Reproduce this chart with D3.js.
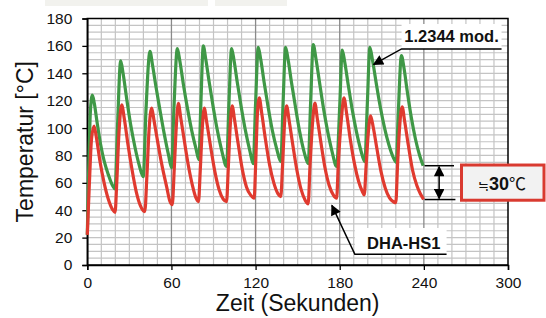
<!DOCTYPE html>
<html><head><meta charset="utf-8">
<script src="https://cdn.jsdelivr.net/npm/d3@7/dist/d3.min.js"></script>
<style>
html,body{margin:0;padding:0;background:#fff;}
svg{display:block;font-family:Arial,"Liberation Sans","Noto Sans CJK JP",sans-serif;}
</style></head><body>
<svg id="c" width="546" height="318"></svg>
<script>
// ---- data ----
const xTicks = [0, 60, 120, 180, 240, 300];
const yTicks = [0, 20, 40, 60, 80, 100, 120, 140, 160, 180];
const seriesNames = ["1.2344 mod.", "DHA-HS1"];
const greenSeries = [
 [0,22],[1,70],[2.2,112],[3.6,124],[5,118],[7,104],[9.5,88],[12,76],[15,66],[18,58],[19.8,55.5],
 [21.5,100],[23.8,149],[25.5,140],[28,122],[31,102],[34,86],[37,73],[39.9,64.5],
 [41.8,112],[44.7,156],[46.5,146],[49,130],[52,112],[55,95],[58,80],[60.1,71],
 [61.8,115],[64.2,158],[66,149],[68.5,132],[71.5,114],[74.5,98],[77.5,85],[79.6,77],
 [81,118],[82.7,160],[84.5,150],[87,133],[90,114],[93,97],[96,83],[99.3,72],
 [101,118],[102.9,158],[104.7,149],[107,133],[110,114],[113,97],[116,83],[118.3,74],
 [120,118],[121.9,159],[123.7,150],[126,134],[129,115],[132,98],[135,85],[138,75.5],
 [139.6,118],[141.4,159],[143.2,150],[145.5,134],[148.5,115],[151.5,97],[154.5,83],[157.5,74],
 [159.3,120],[161.1,161],[163,151],[165.5,134],[168.5,114],[171.5,97],[174.5,83],[177.8,72],
 [180,116],[181.8,157],[183.6,148],[186,132],[189,113],[192,97],[195,84],[197.9,75.5],
 [199.7,118],[201.5,159],[203.3,150],[206,133],[209,115],[212,100],[215,88],[218,79],[220.3,75],
 [221.8,112],[224,153],[225.8,144],[228,128],[231,108],[234,92],[237,80],[239.5,72.5]
];
const redSeries = [
 [0,22],[1.5,60],[3,92],[4.8,101.5],[6.5,93],[9,76],[12,60],[15,48],[18,40.5],[19.8,38.5],
 [21,60],[22.5,95],[24.5,117],[26.5,106],[29,88],[32,69],[35,53],[38,43],[41,39],
 [42.5,65],[44,98],[45.9,114.5],[47.5,106],[49.5,94],[53,74],[56.6,57],[58.9,46.5],[60.6,44],
 [62,70],[63.4,100],[64.9,118],[66.7,107],[69,92],[72,73],[75,58],[77.5,49],[79.3,46.3],
 [80.5,68],[82,100],[83.4,114.5],[85.2,104],[88,86],[91,68],[94,55],[97,48],[99.3,46.3],
 [100.5,70],[102,103],[103.3,116.3],[105,106],[107.5,89],[110.5,70],[113.5,57],[116.5,51],[119,48.8],
 [120,72],[121.2,108],[122.6,122],[124.5,110],[127,92],[130,73],[133,60],[136,52],[138,50],
 [139.2,72],[140.7,104],[142.1,116.3],[144,105],[146.5,88],[149.5,69],[152.5,55],[155.5,47],[157.5,44.6],
 [158.8,72],[160.8,106],[162.3,118.3],[164,107],[166.5,90],[169.5,71],[172.5,58],[175.5,51],[177.8,48.8],
 [179,74],[181.3,108],[183,122],[185,110],[187.5,92],[190.5,74],[193.5,61],[196,54],[197.5,51.2],
 [198.8,72],[200.5,98],[202,109],[204,100],[206.5,85],[209.5,68],[212.5,56],[215.5,49],[218.5,46],[220,45.5],
 [221.2,72],[222.8,102],[224.5,115.5],[226.3,105],[229,87],[232,69],[235,58],[237.5,52],[239.8,48]
];
const diffLabelSym = "≒";
const diffLabelVal = "30";
const diffLabelUnit = "℃";
const xTitle = "Zeit (Sekunden)";
const yTitle = "Temperatur [°C]";

// ---- layout ----
const svg = d3.select("#c");
const x = d3.scaleLinear().domain([0,300]).range([87.3,508]);
const y = d3.scaleLinear().domain([0,180]).range([265,18.5]);

// faint header remnants
svg.append("rect").attr("x",45).attr("y",0).attr("width",163).attr("height",6).attr("fill","#f2f2ee");
svg.append("rect").attr("x",215).attr("y",0).attr("width",72).attr("height",6).attr("fill","#f2f2ee");

const grid = svg.append("g");
d3.range(5,180,5).forEach(v=>{
  grid.append("line").attr("x1",x(0)).attr("x2",x(300)).attr("y1",y(v)).attr("y2",y(v))
   .attr("stroke","#c4c4c4").attr("stroke-width",1.2);
});
d3.range(10,300,10).forEach(v=>{
  const major = v%60===0;
  grid.append("line").attr("x1",x(v)).attr("x2",x(v)).attr("y1",y(0)).attr("y2",y(180))
   .attr("stroke",major?"#8a8a8a":"#c4c4c4").attr("stroke-width",major?1.3:1.2);
});
svg.append("rect").attr("x",x(0)).attr("y",y(180)).attr("width",x(300)-x(0)).attr("height",y(0)-y(180))
 .attr("fill","none").attr("stroke","#000").attr("stroke-width",1.5);

// axes
const yAxis = svg.append("g").attr("transform",`translate(${x(0)},0)`)
  .call(d3.axisLeft(y).tickValues(yTicks).tickSize(5).tickPadding(10));
const xAxis = svg.append("g").attr("transform",`translate(0,${y(0)})`)
  .call(d3.axisBottom(x).tickValues(xTicks).tickSize(5).tickPadding(7));
[yAxis,xAxis].forEach(a=>{
  a.select(".domain").attr("stroke","#000").attr("stroke-width",1.5);
  a.selectAll(".tick line").attr("stroke","#000").attr("stroke-width",1.3);
  a.selectAll(".tick text").attr("font-size",15.5).attr("fill","#111").attr("font-family","Arial, 'Liberation Sans', sans-serif");
});

// titles
svg.append("text").attr("x",(x(0)+x(300))/2).attr("y",311).attr("text-anchor","middle")
 .attr("font-size",23).attr("fill","#111").text(xTitle);
svg.append("text").attr("transform",`translate(33,${(y(0)+y(180))/2}) rotate(-90)`).attr("text-anchor","middle")
 .attr("font-size",23).attr("fill","#111").text(yTitle);

// lines
const line = d3.line().x(d=>x(d[0])).y(d=>y(d[1])).curve(d3.curveMonotoneX);
svg.append("path").datum(greenSeries).attr("d",line).attr("fill","none")
 .attr("stroke","#3f9846").attr("stroke-width",3.2).attr("stroke-linejoin","round");
svg.append("path").datum(redSeries).attr("d",line).attr("fill","none")
 .attr("stroke","#e03a2f").attr("stroke-width",3.2).attr("stroke-linejoin","round");

// arrow marker
const defs = svg.append("defs");
defs.append("marker").attr("id","ah").attr("viewBox","0 0 10 10").attr("refX",9).attr("refY",5)
 .attr("markerWidth",8).attr("markerHeight",7).attr("orient","auto-start-reverse")
 .append("path").attr("d","M0,0 L10,5 L0,10 Z").attr("fill","#000");

// label 1: 1.2344 mod.
svg.append("rect").attr("x",x(224.1)).attr("y",24).attr("width",x(295.4)-x(224.1)).attr("height",y(157.8)-24).attr("fill","#fff");
svg.append("text").attr("x",(x(224.1)+x(295.4))/2).attr("y",42).attr("text-anchor","middle")
 .attr("font-size",16.5).attr("font-weight","bold").attr("fill","#111").text(seriesNames[0]);
svg.append("path").attr("d",`M${x(295.4)},${y(157.8)} L${x(224.1)},${y(157.8)} L${x(204.2)},${y(146.5)}`)
 .attr("fill","none").attr("stroke","#000").attr("stroke-width",1.5).attr("marker-end","url(#ah)");

// label 2: DHA-HS1
svg.append("rect").attr("x",x(190.8)).attr("y",228).attr("width",x(256.2)-x(190.8)).attr("height",y(7.8)-228).attr("fill","#fff");
svg.append("text").attr("x",(x(190.8)+x(256.2))/2+3).attr("y",249).attr("text-anchor","middle")
 .attr("font-size",16.5).attr("font-weight","bold").attr("fill","#111").text(seriesNames[1]);
svg.append("path").attr("d",`M${x(256.2)},${y(7.8)} L${x(190.8)},${y(7.8)} L${x(174.4)},${y(43.5)}`)
 .attr("fill","none").attr("stroke","#000").attr("stroke-width",1.5).attr("marker-end","url(#ah)");

// difference annotation
svg.append("line").attr("x1",x(240.5)).attr("x2",x(261.5)).attr("y1",y(72.5)).attr("y2",y(72.5)).attr("stroke","#000").attr("stroke-width",1.5);
svg.append("line").attr("x1",x(240.5)).attr("x2",x(262.5)).attr("y1",y(47.8)).attr("y2",y(47.8)).attr("stroke","#000").attr("stroke-width",1.5);
svg.append("line").attr("x1",x(250.9)).attr("x2",x(250.9)).attr("y1",y(72.5)+1).attr("y2",y(47.8)-1)
 .attr("stroke","#000").attr("stroke-width",1.5).attr("marker-start","url(#ah)").attr("marker-end","url(#ah)");

svg.append("rect").attr("x",461.5).attr("y",y(73)).attr("width",82.5).attr("height",y(47.3)-y(73))
 .attr("fill","#f2f2f2").attr("stroke","#d93a30").attr("stroke-width",3);
const t = svg.append("text").attr("x",502).attr("y",189.5).attr("text-anchor","middle").attr("font-size",18).attr("fill","#111");
t.append("tspan").attr("font-family","'Noto Sans CJK JP',sans-serif").attr("font-size",13).text(diffLabelSym);
t.append("tspan").attr("font-weight","bold").attr("font-family","Arial,'Liberation Sans',sans-serif").text(diffLabelVal);
t.append("tspan").attr("font-family","'Noto Sans CJK JP',sans-serif").attr("font-size",17).text(diffLabelUnit);
</script>
</body></html>
